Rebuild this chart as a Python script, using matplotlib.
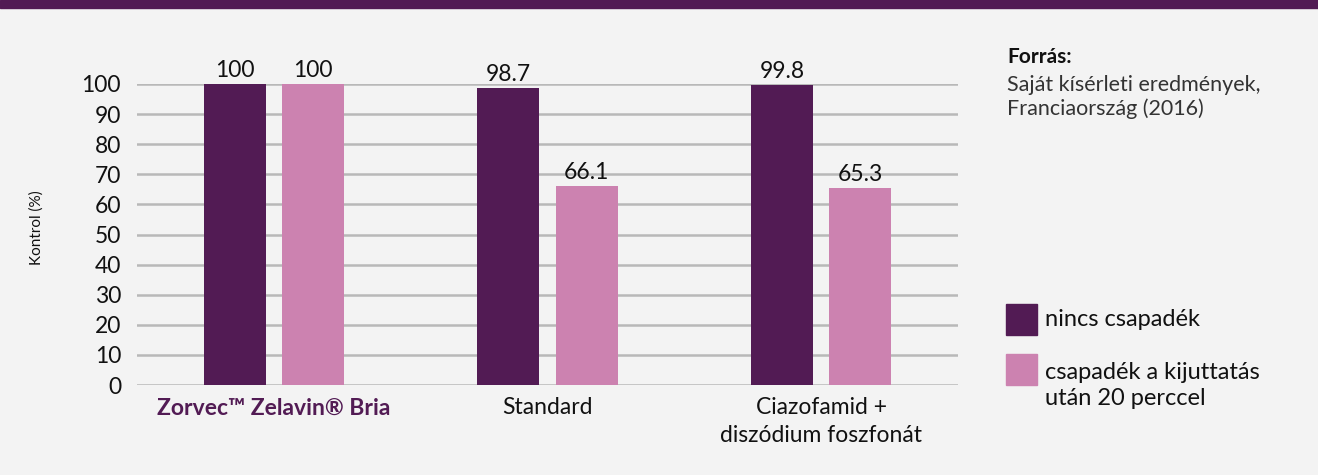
import matplotlib.pyplot as plt
import numpy as np

# data
categories = ["Zorvec™ Zelavin® Bria", "Standard", "Ciazofamid +\ndiszódium foszfonát"]
no_rain = [100, 98.7, 99.8]
rain_20min = [100, 66.1, 65.3]
series_names = ["nincs csapadék", "csapadék a kijuttatás\nután 20 perccel"]
yticks = list(range(0, 101, 10))

DARK = "#521b54"
PINK = "#cc82b0"
BG = "#f3f3f3"
GRID = "#b8b8b8"
TXT = "#111111"

plt.rcParams['font.family'] = ['Lato', 'DejaVu Sans']

fig = plt.figure(figsize=(13.18, 4.75), dpi=100, facecolor=BG)

# purple band at top
fig.patches.append(plt.Rectangle((0, 1 - 8 / 475), 1, 8 / 475, transform=fig.transFigure,
                                 color=DARK, zorder=0))

ax = fig.add_axes([137 / 1318, 90 / 475, (958 - 137) / 1318, (391 - 90) / 475])
ax.set_facecolor(BG)

x = np.arange(len(categories))
w = 0.227
off = 0.143
b1 = ax.bar(x - off, no_rain, w, color=DARK, zorder=3)
b2 = ax.bar(x + off, rain_20min, w, color=PINK, zorder=3)

for bars, vals in ((b1, no_rain), (b2, rain_20min)):
    for bar, v in zip(bars, vals):
        lbl = f"{v:g}" if v != int(v) else f"{int(v)}"
        ax.text(bar.get_x() + bar.get_width() / 2, v + 1, lbl, ha='center', va='bottom',
                fontsize=16.5, color=TXT)

ax.set_xlim(-0.5, 2.5)
ax.set_ylim(0, 100)
ax.set_yticks(yticks)
ax.set_yticklabels([str(t) for t in yticks], fontsize=16.5, color=TXT)
ax.tick_params(axis='y', length=0, pad=11.5)
ax.set_xticks(x)
ax.set_xticklabels(categories, fontsize=16.5, color=TXT, linespacing=1.4)
ax.tick_params(axis='x', length=0, pad=9)
lab0 = ax.get_xticklabels()[0]
lab0.set_fontweight('bold')
lab0.set_color(DARK)
ax.yaxis.grid(True, color=GRID, linewidth=1.8, zorder=0)
for s in ax.spines.values():
    s.set_visible(False)

fig.text(37 / 1318, 1 - 228 / 475, "Kontrol (%)", rotation=90, ha='center', va='center',
         fontsize=11, color=TXT)

# source note
fig.text(1007 / 1318, 1 - 57 / 475, "Forrás:", fontsize=15, fontweight='bold', color=TXT,
         va='center')
fig.text(1007 / 1318, 1 - 97 / 475, "Saját kísérleti eredmények,\nFranciaország (2016)",
         fontsize=15.5, color="#333333", va='center', linespacing=1.15)

# legend
sq_w, sq_h = 31 / 1318, 31 / 475
for i, (name, col) in enumerate(zip(series_names, [DARK, PINK])):
    top = 304 + i * 50
    fig.patches.append(plt.Rectangle((1006 / 1318, 1 - (top + 31) / 475), sq_w, sq_h,
                                     transform=fig.transFigure, color=col))
    fig.text(1045 / 1318, 1 - (top + 16) / 475 + (8 / 475 if i else 0), name, fontsize=17,
             color=TXT, va='top' if i else 'center', linespacing=1.3)

fig.savefig("out.png", dpi=100, facecolor=BG)
